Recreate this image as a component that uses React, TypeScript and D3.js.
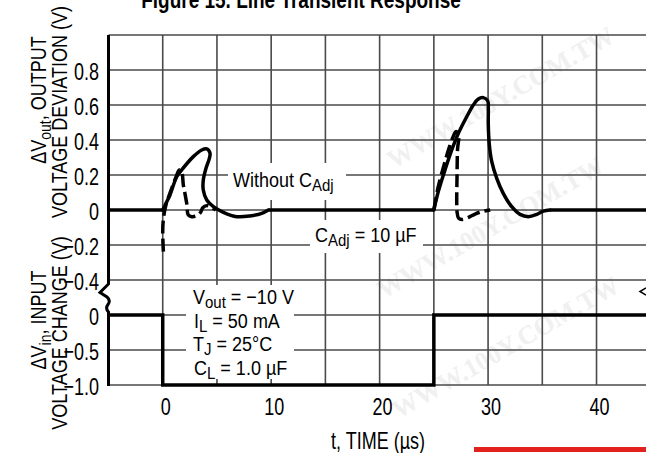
import * as d3 from "d3";

// time axis (µs)
const xTickValues = [0, 10, 20, 30, 40];
const xGridValues = [0, 5, 10, 15, 20, 25, 30, 35, 40];

// output deviation panel (V)
const outGridValues = [1.0, 0.8, 0.6, 0.4, 0.2, 0, -0.2, -0.4];
const outTickValues = [0.8, 0.6, 0.4, 0.2, 0, -0.2, -0.4];

// input change panel (V)
const inGridValues = [0, -0.5, -1.0];
const inTickValues = [0, -0.5, -1.0];

// input step
const inputT = [-5, 0, 0, 25, 25, 45];
const inputV = [0, 0, -1, -1, 0, 0];

// flat parts of the output trace
const baseStart = [-5, 9.74, 35.7];
const baseEnd = [0, 25, 45];

// without C_Adj (solid)
const noAdj1T = [0, 0.37, 0.67, 1.29, 1.75, 2.82, 3.6, 4.06, 4.36, 4.3, 3.99, 3.74, 3.74, 4.06, 4.67, 5.59, 6.82, 8.05, 9.13, 9.74];
const noAdj1V = [0, 0.047, 0.086, 0.19, 0.229, 0.305, 0.343, 0.349, 0.324, 0.295, 0.238, 0.171, 0.114, 0.057, 0.019, -0.013, -0.038, -0.034, -0.019, 0];
const noAdj2T = [25, 25.41, 26.03, 26.65, 27.26, 28.03, 28.64, 29.1, 29.56, 29.97, 30.02, 30.02, 30.12, 30.34, 30.8, 31.4, 32.18, 32.95, 33.71, 34.49, 35.1, 35.7];
const noAdj2V = [0, 0.105, 0.229, 0.343, 0.438, 0.533, 0.6, 0.634, 0.642, 0.623, 0.581, 0.486, 0.371, 0.276, 0.181, 0.095, 0.019, -0.025, -0.038, -0.025, -0.006, 0];

// C_Adj = 10 µF (dashed)
const adj1T = [0.06, 0, 0.07, 0.3, 0.77, 1.23, 1.53, 1.75, 1.9, 2.06, 2.21, 2.36, 2.67, 3.14, 3.5, 3.69, 4.06, 4.52, 4.9];
const adj1V = [-0.238, -0.124, -0.046, 0.029, 0.114, 0.189, 0.229, 0.217, 0.143, 0.091, 0.038, -0.029, -0.038, -0.033, -0.013, 0.013, 0.025, 0.014, 0];
const adj2T = [25, 25.38, 25.94, 26.4, 26.77, 27.05, 27.28, 27.18, 27.14, 27.11, 27.14, 27.28, 27.6, 28.15, 28.8, 29.44, 30.2];
const adj2V = [0, 0.126, 0.257, 0.354, 0.417, 0.449, 0.434, 0.343, 0.2, 0.057, -0.011, -0.046, -0.054, -0.043, -0.023, -0.009, 0];

const FONT = "'Liberation Sans', Arial, Helvetica, sans-serif";
const GRID = "#4a4a4a";

const x = d3.scaleLinear().domain([-5, 45]).range([108.5, 650.75]);
const yOut = d3.scaleLinear().domain([-0.4, 1.0]).range([280, 35]);
const yIn = d3.scaleLinear().domain([-1, 0]).range([385, 315]);

const fmt = (v: number) => (v === 0 ? "0" : (v < 0 ? "\u2212" : "") + Math.abs(v).toFixed(1));

const zip = (t: number[], v: number[]) => t.map((d, i) => [d, v[i]] as [number, number]);

const curve = d3
  .line<[number, number]>()
  .x((d) => x(d[0]))
  .y((d) => yOut(d[1]))
  .curve(d3.curveCatmullRom.alpha(0.5));

const stepLine = d3
  .line<[number, number]>()
  .x((d) => x(d[0]))
  .y((d) => yIn(d[1]));

function Txt({
  x,
  y,
  k = 1.2,
  size = 18,
  anchor = "start",
  rot = 0,
  bold = false,
  children,
}: any) {
  return (
    <text
      transform={`translate(${x},${y}) rotate(${rot}) scale(1,${k})`}
      fontFamily={FONT}
      fontSize={size}
      fontWeight={bold ? "bold" : "normal"}
      textAnchor={anchor}
      fill="#000"
    >
      {children}
    </text>
  );
}

export default function App() {
  const x0 = x(-5);
  const xr = 646;
  const watermarks = [
    [505, 105],
    [495, 235],
    [510, 355],
  ];
  return (
    <svg
      width={646}
      height={453}
      style={{ position: "absolute", left: 0, top: 0, background: "#fff" }}
    >
      <rect width={646} height={453} fill="#fff" />

      {watermarks.map(([wx, wy], i) => (
        <text
          key={i}
          transform={`translate(${wx},${wy}) rotate(-30)`}
          fontFamily="'Liberation Serif', serif"
          fontWeight="bold"
          fontSize={26}
          textAnchor="middle"
          fill="#f0f0f0"
        >
          WWW.100Y.COM.TW
        </text>
      ))}

      {/* grid */}
      {xGridValues.map((t) => (
        <line key={t} x1={x(t)} x2={x(t)} y1={yOut(1)} y2={yIn(-1)} stroke={GRID} strokeWidth={1.6} />
      ))}
      {outGridValues.map((v) => (
        <line key={"o" + v} x1={x0} x2={xr} y1={yOut(v)} y2={yOut(v)} stroke={GRID} strokeWidth={1.6} />
      ))}
      {inGridValues.map((v) => (
        <line key={"i" + v} x1={x0} x2={xr} y1={yIn(v)} y2={yIn(v)} stroke={GRID} strokeWidth={1.6} />
      ))}

      {/* left axis with break */}
      <path
        d={`M${x0},${yOut(1)} V284 L100,292.5 L107,297 Q111,300.5 108,304.5 Q105,308.5 ${x0},312 V${yIn(-1) + 1}`}
        fill="none"
        stroke="#000"
        strokeWidth={3}
      />
      <path d="M646,288 L640,291.5 L646,295" fill="none" stroke="#000" strokeWidth={1.5} />

      {/* label backgrounds */}
      <rect x={228} y={163} width={118} height={37} fill="#fff" />
      <rect x={310} y={220} width={113} height={33} fill="#fff" />
      <rect x={186} y={285} width={108} height={94} fill="#fff" />

      {/* input step */}
      <path d={stepLine(zip(inputT, inputV)) || ""} fill="none" stroke="#000" strokeWidth={3.5} />

      {/* output traces */}
      {baseStart.map((s, i) => (
        <line key={i} x1={x(s)} x2={Math.min(x(baseEnd[i]), xr)} y1={yOut(0)} y2={yOut(0)} stroke="#000" strokeWidth={3.5} />
      ))}
      {[zip(noAdj1T, noAdj1V), zip(noAdj2T, noAdj2V)].map((d, i) => (
        <path key={i} d={curve(d) || ""} fill="none" stroke="#000" strokeWidth={3.5} strokeLinecap="round" strokeLinejoin="round" />
      ))}
      {[zip(adj1T, adj1V), zip(adj2T, adj2V)].map((d, i) => (
        <path key={i} d={curve(d) || ""} fill="none" stroke="#000" strokeWidth={3.5} strokeDasharray="13,5" />
      ))}

      {/* tick labels */}
      {outTickValues.map((v) => (
        <Txt key={v} x={99} y={yOut(v) + 10} k={1.35} anchor="end">
          {fmt(v)}
        </Txt>
      ))}
      {inTickValues.map((v) => (
        <Txt key={v} x={99} y={yIn(v) + 10} k={1.35} anchor="end">
          {fmt(v)}
        </Txt>
      ))}
      {xTickValues.map((t) => (
        <Txt key={t} x={x(t) + 3} y={415} k={1.35} anchor="middle">
          {t}
        </Txt>
      ))}

      {/* titles */}
      <Txt x={301} y={8} k={1.3} size={19} bold anchor="middle">
        Figure 15. Line Transient Response
      </Txt>
      <Txt x={378} y={449} k={1.3} anchor="middle">
        t, TIME (µs)
      </Txt>
      <Txt x={46} y={100} k={1.2} rot={-90} anchor="middle">
        ΔV<tspan fontSize={14} dy={4}>out</tspan>
        <tspan dy={-4}>, OUTPUT</tspan>
      </Txt>
      <Txt x={67} y={112} k={1.2} rot={-90} anchor="middle">
        VOLTAGE DEVIATION (V)
      </Txt>
      <Txt x={46} y={320} k={1.2} rot={-90} anchor="middle">
        ΔV<tspan fontSize={14} dy={4}>in</tspan>
        <tspan dy={-4}>, INPUT</tspan>
      </Txt>
      <Txt x={67} y={333} k={1.2} rot={-90} anchor="middle">
        VOLTAGE CHANGE (V)
      </Txt>

      {/* annotations */}
      <Txt x={233} y={187} k={1.12}>
        Without C<tspan fontSize={15} dy={4}>Adj</tspan>
      </Txt>
      <Txt x={315} y={242} k={1.12}>
        C<tspan fontSize={15} dy={4}>Adj</tspan>
        <tspan dy={-4}> = 10 µF</tspan>
      </Txt>
      <Txt x={193} y={304} k={1.12}>
        V<tspan fontSize={15} dy={4}>out</tspan>
        <tspan dy={-4}> = −10 V</tspan>
      </Txt>
      <Txt x={194} y={327.5} k={1.12}>
        I<tspan fontSize={15} dy={4}>L</tspan>
        <tspan dy={-4}> = 50 mA</tspan>
      </Txt>
      <Txt x={193} y={351} k={1.12}>
        T<tspan fontSize={15} dy={4}>J</tspan>
        <tspan dy={-4}> = 25°C</tspan>
      </Txt>
      <Txt x={194} y={374.5} k={1.12}>
        C<tspan fontSize={15} dy={4}>L</tspan>
        <tspan dy={-4}> = 1.0 µF</tspan>
      </Txt>

      <rect x={474} y={447} width={172} height={5} fill="#e3221f" />
    </svg>
  );
}
